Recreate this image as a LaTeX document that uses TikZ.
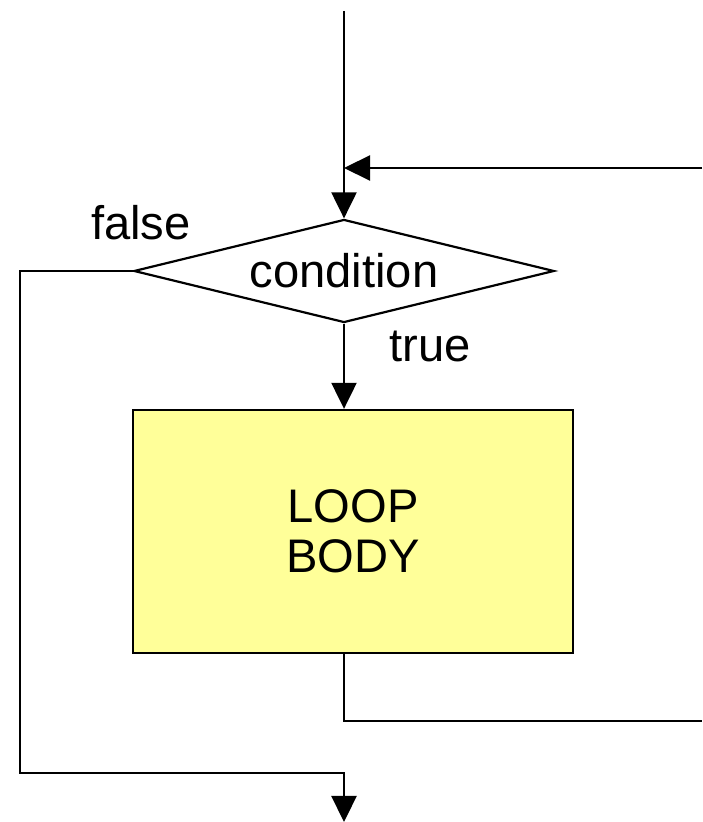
\documentclass[tikz,border=0pt]{standalone}
\usepackage{fontspec}
\setmainfont{Liberation Sans}
\usetikzlibrary{shapes.geometric}
\usetikzlibrary{arrows.meta}
\definecolor{bodyyellow}{RGB}{255,255,153}

\begin{document}
\begin{tikzpicture}[x=0.01cm,y=-0.01cm,line width=0.022cm,
	flow/.style={-{Triangle[width=0.25cm,length=0.26cm]}},
	decision/.style={diamond,draw,aspect=4,inner sep=0pt,minimum width=4.2cm,minimum height=1.03cm},
	block/.style={rectangle,draw,fill=bodyyellow,minimum width=4.4cm,minimum height=2.43cm,align=center},
	label/.style={inner sep=0pt,anchor=base}]
	\useasboundingbox (0,0) rectangle (702,822);
	\fontsize{13.4pt}{14.2pt}\selectfont
	
	% entry and return from the body
	\coordinate (start) at (344,11);
	\coordinate (backin) at (702,168);
	\coordinate (merge) at (344,168);
	
	\node[decision](cond) at (344,271) {condition};
	\node[block,font={\fontsize{13.4pt}{14.2pt}\selectfont\baselineskip=0.5cm}](body) at (353,531.5) {LOOP\\BODY};
	
	\node[label](false) at (141,240) {false};
	\node[label](true) at (430,362) {true};
	
	\coordinate (bodyout) at (344,653);
	\coordinate (turn) at (344,721);
	\coordinate (backout) at (702,721);
	\coordinate (leftout) at (20,271);
	\coordinate (leftdown) at (20,773);
	\coordinate (exitturn) at (344,773);
	\coordinate (exit) at (344,822);
	
	\draw[flow] (start) -- (cond.north);
	\draw[flow] (backin) -- (merge);
	\draw[flow] (cond.south) -- (cond.south |- body.north);
	\draw (bodyout) -- (turn) -- (backout);
	\draw[flow] (cond.west) -- (leftout) -- (leftdown) -- (exitturn) -- (exit);
\end{tikzpicture}
\end{document}
